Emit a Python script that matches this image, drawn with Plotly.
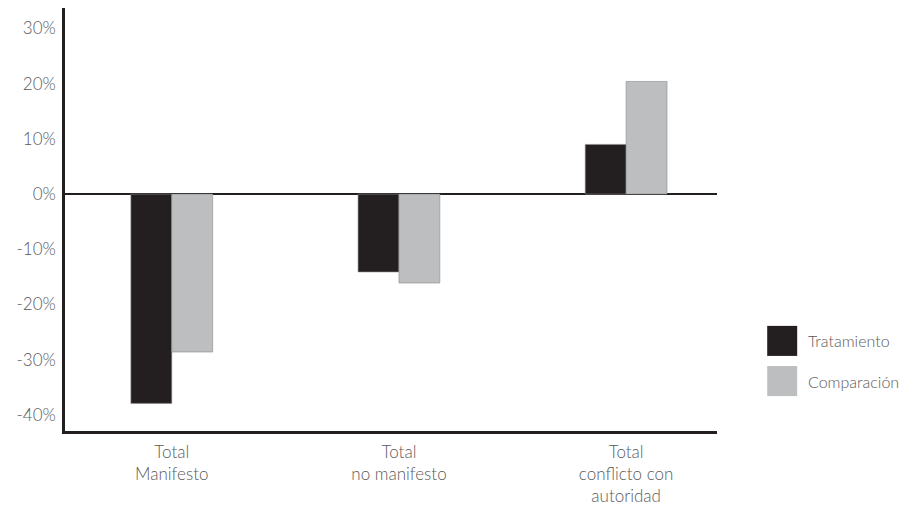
import plotly.graph_objects as go

categories = ["Total<br>Manifesto", "Total<br>no manifesto", "Total<br>conflicto con<br>autoridad"]
series_names = ["Tratamiento", "Comparación"]
tratamiento = [-37.9, -14.1, 9.0]
comparacion = [-28.6, -16.1, 20.4]
y_ticks = [-40, -30, -20, -10, 0, 10, 20, 30]
y_tick_labels = [f"{v}%" for v in y_ticks]
colors = ["#231f20", "#bcbec0"]

FONT = "Lato, Roboto, sans-serif"
TXT = "#5a5a5a"

fig = go.Figure()
for name, vals, col in zip(series_names, [tratamiento, comparacion], colors):
    fig.add_trace(go.Bar(
        x=categories, y=vals, name=name,
        marker=dict(color=col, line=dict(color="#8a8a8a", width=0.6)),
        showlegend=False,
    ))

# custom legend (large swatches)
leg_y = [0.213, 0.118]
for name, col, yy in zip(series_names, colors, leg_y):
    fig.add_shape(type="rect", xref="paper", yref="paper",
                  x0=1.077, x1=1.123, y0=yy - 0.0355, y1=yy + 0.0355,
                  fillcolor=col, line=dict(width=0))
    fig.add_annotation(xref="paper", yref="paper", x=1.137, y=yy,
                       text=name, showarrow=False, xanchor="left", yanchor="middle",
                       font=dict(family=FONT, size=16, color=TXT, weight=300))

fig.update_layout(
    width=922, height=514,
    margin=dict(l=57, r=213, t=0, b=91, autoexpand=False),
    plot_bgcolor="white", paper_bgcolor="white",
    barmode="group", bargap=0.64, bargroupgap=0,
    font=dict(family=FONT, size=16, color=TXT, weight=300),
)
fig.update_xaxes(
    type="category", range=[-0.47, 2.40], automargin=False,
    showline=True, linecolor="#231f20", linewidth=2.5,
    ticks="", showgrid=False, ticklabelstandoff=4,
    tickfont=dict(family=FONT, size=17, color=TXT, weight=300),
)
fig.update_yaxes(
    range=[-42.9, 33.7], tickvals=y_ticks, ticktext=y_tick_labels, automargin=False,
    showline=True, linecolor="#231f20", linewidth=2.5,
    showgrid=False, zeroline=True, zerolinecolor="#231f20", zerolinewidth=1.5,
    ticks="", ticklabelstandoff=3,
    tickfont=dict(family=FONT, size=17, color=TXT, weight=300),
)

fig.write_html("out.html")
